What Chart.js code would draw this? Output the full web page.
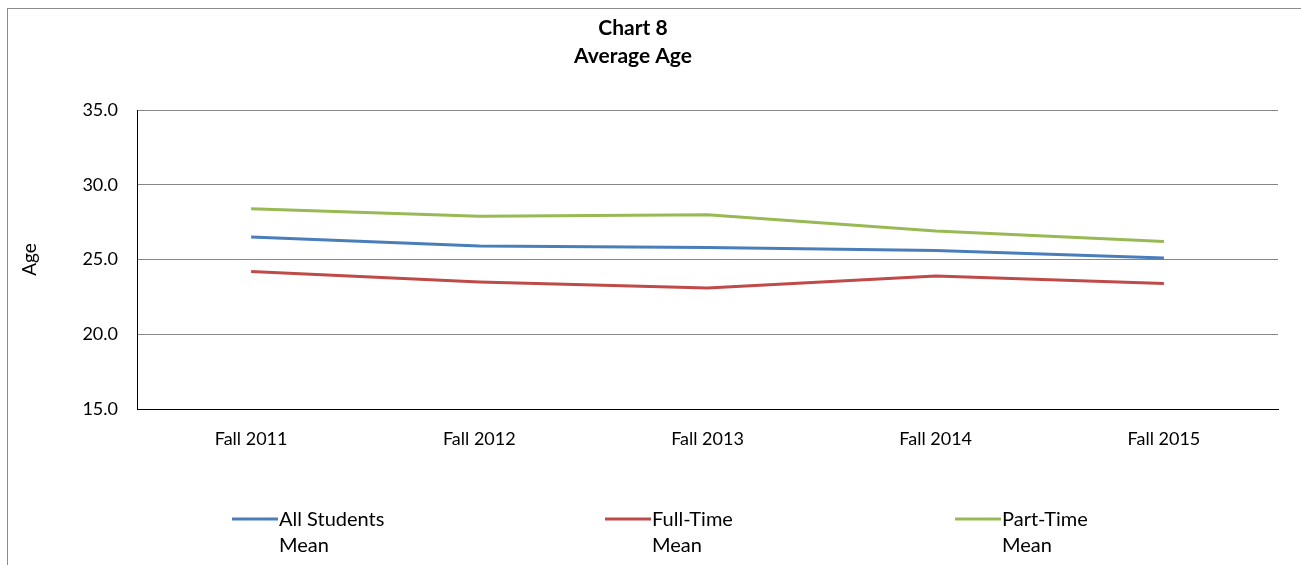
<!DOCTYPE html>
<html>
<head>
<meta charset="utf-8">
<script src="https://cdn.jsdelivr.net/npm/chart.js@4"></script>
<style>
  body { margin: 0; background: #fff; overflow: hidden; }
  #frame { position: absolute; left: 7px; top: 8px; width: 1310px; height: 580px; border: 1px solid #8c8c8c; }
  #wrap { position: absolute; left: 0; top: 0; width: 1301px; height: 565px; }
</style>
</head>
<body>
<div id="frame"></div>
<div id="wrap"><canvas id="myChart" width="1301" height="565"></canvas></div>
<script>
const years = ['Fall 2011', 'Fall 2012', 'Fall 2013', 'Fall 2014', 'Fall 2015'];
const allStudents = [26.5, 25.9, 25.8, 25.6, 25.1];
const fullTime = [24.2, 23.5, 23.1, 23.9, 23.4];
const partTime = [28.4, 27.9, 28.0, 26.9, 26.2];
const seriesNames = [['All Students', 'Mean'], ['Full-Time', 'Mean'], ['Part-Time', 'Mean']];
const titleLines = ['Chart 8', 'Average Age'];

const FONT = 'Lato, "Open Sans", sans-serif';

// title + legend drawn by hand so they sit where Excel put them
const extras = {
    id: 'extras',
    afterDraw(chart) {
        const c = chart.ctx;
        c.save();
        c.fillStyle = '#000';
        c.font = 'bold 21px ' + FONT;
        c.textAlign = 'center';
        c.textBaseline = 'middle';
        c.fillText(titleLines[0], 633, 28);
        c.fillText(titleLines[1], 633, 56);

        const legendX = [232, 605, 955];
        chart.data.datasets.forEach((ds, i) => {
            const x = legendX[i];
            c.strokeStyle = ds.borderColor;
            c.lineWidth = 3;
            c.beginPath();
            c.moveTo(x, 519);
            c.lineTo(x + 46, 519);
            c.stroke();
            c.font = '20px ' + FONT;
            c.textAlign = 'left';
            c.fillStyle = '#000';
            ds.label.forEach((t, j) => c.fillText(t, x + 47, 520 + j * 26));
        });
        c.restore();
    }
};

const ctx = document.getElementById('myChart').getContext('2d');
let myChart = new Chart(ctx, {
    type: 'line',
    data: {
        labels: years,
        datasets: [
            { label: seriesNames[0], data: allStudents, borderColor: '#4a7ebb' },
            { label: seriesNames[1], data: fullTime, borderColor: '#be4b48' },
            { label: seriesNames[2], data: partTime, borderColor: '#98b954' }
        ]
    },
    options: {
        responsive: false,
        animation: false,
        elements: {
            line: { borderWidth: 3, tension: 0, fill: false },
            point: { radius: 0 }
        },
        layout: { padding: { left: 0, right: 23, top: 110, bottom: 0 } },
        plugins: {
            legend: { display: false },
            tooltip: { enabled: false }
        },
        scales: {
            x: {
                offset: true,
                grid: { display: false },
                border: { display: true, color: '#000', width: 1 },
                ticks: { color: '#000', font: { family: FONT, size: 18 }, padding: 11, maxRotation: 0 },
                afterFit: (s) => { s.height = 156; }
            },
            y: {
                min: 15,
                max: 35,
                ticks: {
                    stepSize: 5,
                    color: '#000',
                    font: { family: FONT, size: 18 },
                    padding: 19,
                    callback: (v) => v.toFixed(1)
                },
                grid: {
                    drawTicks: false,
                    color: (c) => c.tick && c.tick.value === 15 ? '#000' : '#868686',
                    lineWidth: 1
                },
                border: { display: true, color: '#000', width: 1 },
                title: {
                    display: true,
                    text: 'Age',
                    color: '#000',
                    font: { family: FONT, size: 19 },
                    padding: { top: 18, bottom: 0 }
                },
                afterFit: (s) => { s.width = 137; }
            }
        }
    },
    plugins: [extras]
});
</script>
</body>
</html>
